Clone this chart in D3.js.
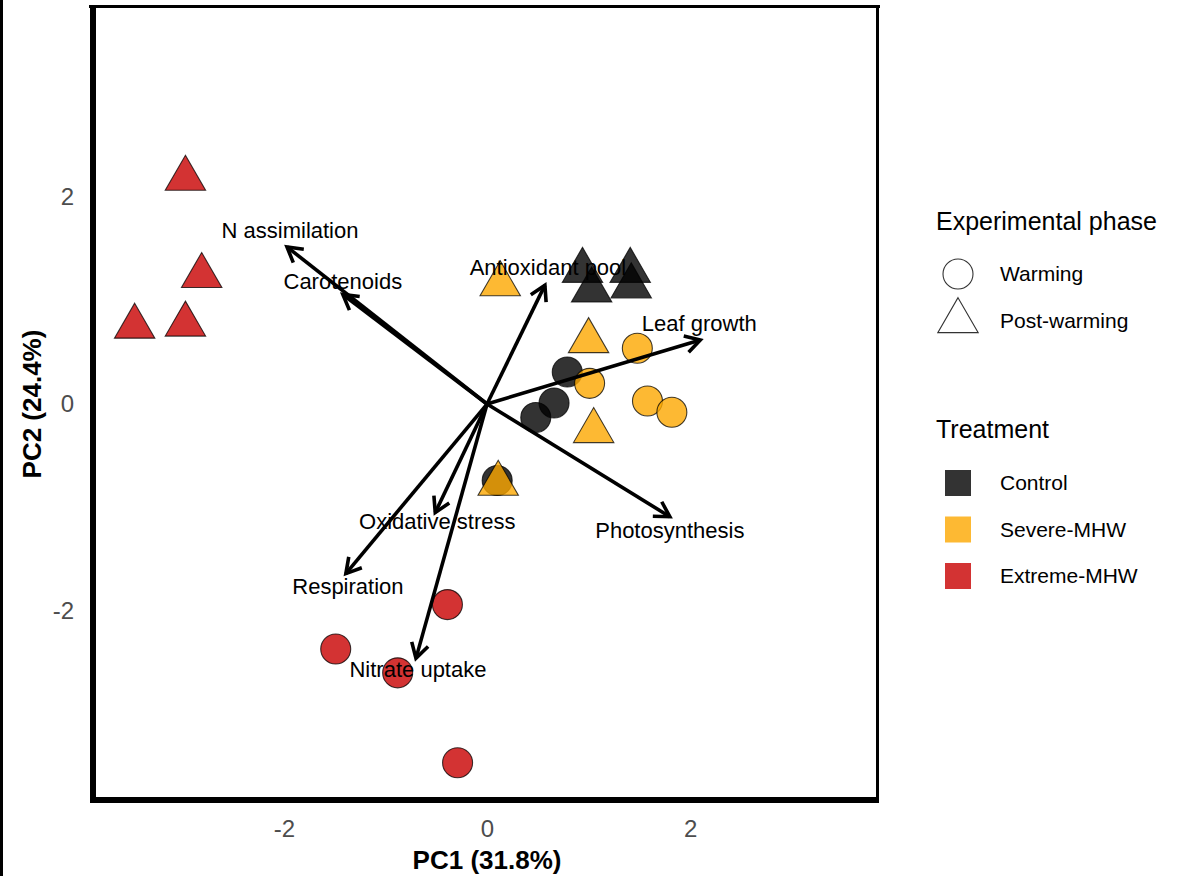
<!DOCTYPE html>
<html>
<head>
<meta charset="utf-8">
<script src="https://cdn.jsdelivr.net/npm/d3@7"></script>
<style>
  body { margin: 0; background: #fff; }
  svg { display: block; font-family: "Liberation Sans", Arial, sans-serif; }
</style>
</head>
<body>
<div id="chart"></div>
<script>
// sample scores (PC1, PC2), grouped by treatment and phase
const treatments = ["Control", "Severe-MHW", "Extreme-MHW"];
const phases = ["Warming", "Post-warming"];

const sampleTreatment = [
  "Control", "Control", "Control", "Control",
  "Control", "Control", "Control", "Control",
  "Severe-MHW", "Severe-MHW", "Severe-MHW", "Severe-MHW",
  "Severe-MHW", "Severe-MHW", "Severe-MHW", "Severe-MHW",
  "Extreme-MHW", "Extreme-MHW", "Extreme-MHW", "Extreme-MHW",
  "Extreme-MHW", "Extreme-MHW", "Extreme-MHW", "Extreme-MHW"
];
const samplePhase = [
  "Warming", "Warming", "Warming", "Warming",
  "Post-warming", "Post-warming", "Post-warming", "Post-warming",
  "Warming", "Warming", "Warming", "Warming",
  "Post-warming", "Post-warming", "Post-warming", "Post-warming",
  "Warming", "Warming", "Warming", "Warming",
  "Post-warming", "Post-warming", "Post-warming", "Post-warming"
];
const samplePC1 = [
  0.79, 0.66, 0.48, 0.10,
  0.94, 1.41, 1.03, 1.42,
  1.48, 1.01, 1.58, 1.82,
  0.13, 1.00, 1.05, 0.11,
  -0.39, -1.49, -0.88, -0.29,
  -2.97, -2.81, -3.47, -2.97
];
const samplePC2 = [
  0.31, 0.01, -0.13, -0.74,
  1.29, 1.29, 1.10, 1.14,
  0.54, 0.20, 0.03, -0.08,
  1.16, 0.61, -0.26, -0.77,
  -1.94, -2.37, -2.60, -3.47,
  2.18, 1.24, 0.75, 0.77
];

// variable loadings (arrow tips) and their label positions
const variables = ["N assimilation", "Carotenoids", "Antioxidant pool", "Leaf growth",
  "Photosynthesis", "Oxidative stress", "Respiration", "Nitrate uptake"];
const loadPC1 = [-1.97, -1.42, 0.57, 2.10, 1.80, -0.51, -1.39, -0.70];
const loadPC2 = [1.52, 1.06, 1.15, 0.62, -1.09, -1.05, -1.64, -2.46];
const labelPC1 = [-1.94, -1.42, 0.60, 2.09, 1.80, -0.49, -1.37, -0.68];
const labelPC2 = [1.68, 1.19, 1.32, 0.78, -1.22, -1.13, -1.76, -2.57];

const xTicks = [-2, 0, 2];
const yTicks = [-2, 0, 2];

const colors = ["#000000", "#FCA800", "#C80000"];

const width = 1204, height = 876;
const panel = {left: 92, right: 878, top: 6, bottom: 800};

const svg = d3.select("#chart").append("svg")
  .attr("width", width)
  .attr("height", height)
  .attr("viewBox", [0, 0, width, height]);

const x = d3.scaleLinear().domain([-3.89, 3.85]).range([panel.left, panel.right]);
const y = d3.scaleLinear().domain([-3.83, 3.85]).range([panel.bottom, panel.top]);
const color = d3.scaleOrdinal().domain(treatments).range(colors);

// left edge of the figure
svg.append("line")
  .attr("x1", 1.5).attr("x2", 1.5).attr("y1", 0).attr("y2", height)
  .attr("stroke", "#000").attr("stroke-width", 3);

// axes (labels only, no ticks)
svg.append("g")
  .attr("transform", `translate(0,${panel.bottom + 10})`)
  .call(d3.axisBottom(x).tickValues(xTicks).tickSize(0).tickPadding(10).tickFormat(d => String(d)))
  .call(g => g.select(".domain").remove())
  .call(g => g.selectAll("text").attr("font-size", 24).attr("fill", "#4D4D4D")
    .attr("font-family", "Liberation Sans, Arial, sans-serif"));

svg.append("g")
  .attr("transform", `translate(${panel.left - 12},0)`)
  .call(d3.axisLeft(y).tickValues(yTicks).tickSize(0).tickPadding(6).tickFormat(d => String(d)))
  .call(g => g.select(".domain").remove())
  .call(g => g.selectAll("text").attr("font-size", 24).attr("fill", "#4D4D4D")
    .attr("font-family", "Liberation Sans, Arial, sans-serif"));

svg.append("text")
  .attr("x", x(0)).attr("y", 869)
  .attr("text-anchor", "middle")
  .attr("font-size", 26).attr("font-weight", "bold")
  .text("PC1 (31.8%)");

svg.append("text")
  .attr("transform", `translate(41,${y(0)}) rotate(-90)`)
  .attr("text-anchor", "middle")
  .attr("font-size", 26).attr("font-weight", "bold")
  .text("PC2 (24.4%)");

// points
const samples = samplePC1.map((v, i) => ({
  pc1: v, pc2: samplePC2[i], treatment: sampleTreatment[i], phase: samplePhase[i]
}));

const R = 15;
const tri = r => {
  const top = 1.555 * r, half = 1.347 * r, low = 0.778 * r;
  return `M0,${-top}L${half},${low}L${-half},${low}Z`;
};

svg.append("g")
  .selectAll("path")
  .data(samples)
  .join("path")
  .attr("transform", d => `translate(${x(d.pc1)},${y(d.pc2)})`)
  .attr("d", d => d.phase === "Warming" ? d3.arc()({innerRadius: 0, outerRadius: R, startAngle: 0, endAngle: 2 * Math.PI}) : tri(R))
  .attr("fill", d => color(d.treatment))
  .attr("fill-opacity", 0.8)
  .attr("stroke", "#000")
  .attr("stroke-opacity", 0.75)
  .attr("stroke-width", 1.1);

// loading arrows
const loadings = variables.map((v, i) => ({
  name: v, pc1: loadPC1[i], pc2: loadPC2[i], lx: labelPC1[i], ly: labelPC2[i]
}));

const arrows = svg.append("g")
  .attr("stroke", "#000")
  .attr("stroke-width", 3.6)
  .attr("stroke-linecap", "butt")
  .attr("fill", "none");

arrows.selectAll("line")
  .data(loadings)
  .join("line")
  .attr("x1", x(0)).attr("y1", y(0))
  .attr("x2", d => x(d.pc1)).attr("y2", d => y(d.pc2));

const headLen = 17, headAng = Math.PI / 6;
arrows.selectAll("path")
  .data(loadings)
  .join("path")
  .attr("stroke-linejoin", "miter")
  .attr("d", d => {
    const tx = x(d.pc1), ty = y(d.pc2);
    const a = Math.atan2(ty - y(0), tx - x(0));
    const p1 = [tx - headLen * Math.cos(a - headAng), ty - headLen * Math.sin(a - headAng)];
    const p2 = [tx - headLen * Math.cos(a + headAng), ty - headLen * Math.sin(a + headAng)];
    return `M${p1}L${tx},${ty}L${p2}`;
  });

svg.append("g")
  .selectAll("text")
  .data(loadings)
  .join("text")
  .attr("x", d => x(d.lx))
  .attr("y", d => y(d.ly))
  .attr("dy", "0.35em")
  .attr("text-anchor", "middle")
  .attr("font-size", 22)
  .attr("fill", "#000")
  .text(d => d.name);

// panel frame (thicker left and bottom edges)
const frame = svg.append("g").attr("stroke", "#000");
frame.append("line").attr("x1", 89).attr("x2", 880).attr("y1", 6.5).attr("y2", 6.5).attr("stroke-width", 3);
frame.append("line").attr("x1", 877.5).attr("x2", 877.5).attr("y1", 5).attr("y2", 803).attr("stroke-width", 3);
frame.append("line").attr("x1", 93).attr("x2", 93).attr("y1", 5).attr("y2", 803).attr("stroke-width", 6);
frame.append("line").attr("x1", 90).attr("x2", 879).attr("y1", 800).attr("y2", 800).attr("stroke-width", 6);

// legends
const leg = svg.append("g").attr("transform", "translate(936,0)");

leg.append("text")
  .attr("x", 0).attr("y", 230)
  .attr("font-size", 25)
  .text("Experimental phase");

const phaseLeg = leg.selectAll("g.phase")
  .data(phases)
  .join("g")
  .attr("class", "phase")
  .attr("transform", (d, i) => `translate(22,${274 + i * 47})`);

phaseLeg.append("path")
  .attr("d", (d, i) => i === 0 ? d3.arc()({innerRadius: 0, outerRadius: R, startAngle: 0, endAngle: 2 * Math.PI}) : tri(R))
  .attr("fill", "none")
  .attr("stroke", "#333")
  .attr("stroke-width", 1.1);

phaseLeg.append("text")
  .attr("x", 42).attr("dy", "0.35em")
  .attr("font-size", 21)
  .text(d => d);

leg.append("text")
  .attr("x", 0).attr("y", 438)
  .attr("font-size", 25)
  .text("Treatment");

const trtLeg = leg.selectAll("g.trt")
  .data(treatments)
  .join("g")
  .attr("class", "trt")
  .attr("transform", (d, i) => `translate(22,${483 + i * 46.5})`);

trtLeg.append("rect")
  .attr("x", -13).attr("y", -13).attr("width", 26).attr("height", 26)
  .attr("fill", d => color(d))
  .attr("fill-opacity", 0.8);

trtLeg.append("text")
  .attr("x", 42).attr("dy", "0.35em")
  .attr("font-size", 21)
  .text(d => d);
</script>
</body>
</html>
